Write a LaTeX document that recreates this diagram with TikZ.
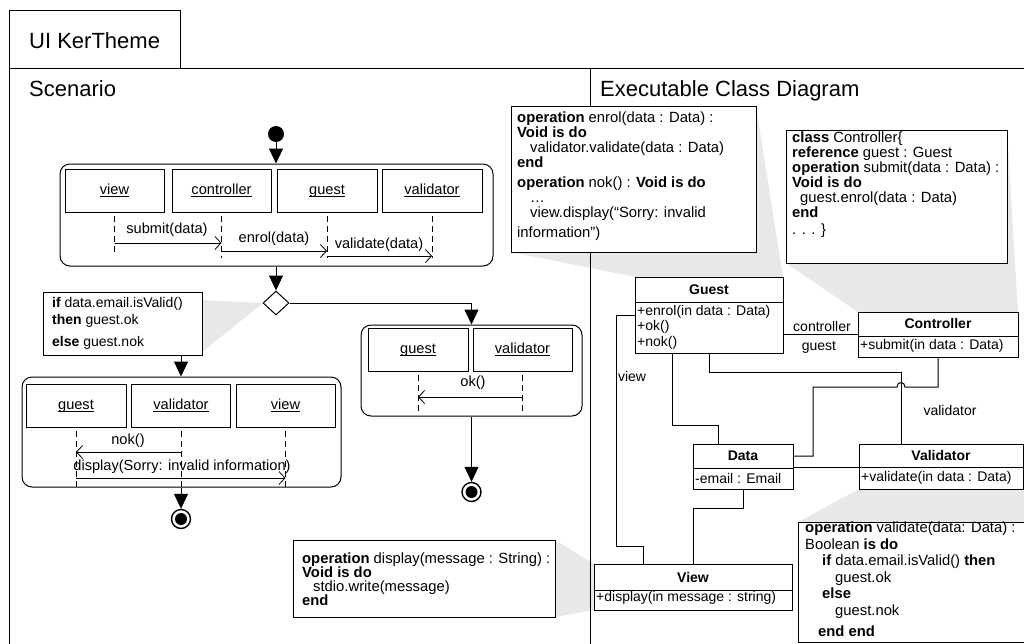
\documentclass[tikz,border=0pt]{standalone}
\usepackage{fontspec}
\setmainfont{Liberation Sans}
\usetikzlibrary{arrows.meta,shapes.geometric}
\newcommand\smallfs{\fontsize{14}{15}\selectfont}
\newcommand\seqfs{\fontsize{14.6}{15}\selectfont}
\newcommand\notefs{\fontsize{14.8}{15}\selectfont}
\newcommand\titlefs{\fontsize{22}{26}\selectfont}
\newcommand\ulabel[1]{\underline{\raisebox{0pt}[\height][0pt]{#1}}}
\tikzset{
  ln/.style={line width=1pt},
  lifebox/.style={draw, line width=1pt, minimum width=99pt, minimum height=43pt, inner sep=0pt, font=\seqfs, text height=10pt, text depth=2pt},
  rbox/.style={draw, line width=1pt, rounded corners=10pt, inner sep=0pt},
  flow/.style={line width=1pt, -{Triangle[width=14pt,length=15pt]}},
  msg/.style={line width=0.8pt, -{Straight Barb[length=6pt,width=13pt]}},
  life/.style={line width=0.8pt, dash pattern=on 6pt off 4pt},
  notebox/.style={draw, fill=white, line width=1pt, inner sep=0pt},
  callout/.style={fill=black!9},
  cls/.style={draw, fill=white, line width=1pt, inner sep=0pt},
  txt/.style={inner sep=0pt, font=\smallfs},
  stxt/.style={inner sep=0pt, font=\seqfs},
  mtxt/.style={inner sep=0pt, font=\smallfs, align=left, anchor=north west},
  ntxt/.style={inner sep=0pt, font=\notefs, align=left, anchor=north west},
  title/.style={inner sep=0pt, font=\titlefs, anchor=base west},
}
\begin{document}
\begin{tikzpicture}[x=1pt,y=-1pt]
\useasboundingbox (0,0) rectangle (1024,643);

% ---------- callout shadings ----------
\fill[callout] (202,300) -- (263,303) -- (202,352) -- cycle;
\fill[callout] (511,106) -- (756,106) -- (783,277) -- (635,277) -- (511,252) -- cycle;
\fill[callout] (786,130) -- (1007,130) -- (1018,312) -- (858,312) -- (786,263) -- cycle;
\fill[callout] (859,489) -- (1040,489) -- (1040,642) -- (798,642) -- (798,522) -- cycle;
\fill[callout] (555,540) -- (594,564) -- (594,610) -- (555,617) -- cycle;

% ---------- frame ----------
\draw[ln] (9,68) rectangle (180,10);
\draw[ln] (9,660) -- (9,68) -- (1040,68);
\draw[ln] (590,68) -- (590,660);
\node[title] (tUI) at (29,48) {UI KerTheme};
\node[title] (tScen) at (29,96) {Scenario};
\node[title] (tExec) at (600,96) {Executable Class Diagram};

% ---------- scenario: top fragment ----------
\node[circle, fill=black, minimum size=16pt, inner sep=0pt] (init) at (276,134) {};
\node[rbox, minimum width=433pt, minimum height=102pt] (rb1) at (276.5,215) {};
\node[lifebox] (s1v) at (114.5,190.5) {\ulabel{view}};
\node[lifebox] (s1c) at (221.5,190.5) {\ulabel{controller}};
\node[lifebox, minimum width=100pt] (s1g) at (327,190.5) {\ulabel{guest}};
\node[lifebox, minimum width=100pt] (s1val) at (432,190.5) {\ulabel{validator}};
\draw[life] (s1v.south |- 0,216) -- (s1v.south |- 0,256);
\draw[life] (s1c.south |- 0,216) -- (s1c.south |- 0,258);
\draw[life] (s1g.south |- 0,216) -- (s1g.south |- 0,258);
\draw[life] (s1val.south |- 0,216) -- (s1val.south |- 0,258);
\draw[msg] (s1v.south |- 0,243) -- (s1c.south |- 0,243);
\draw[msg] (s1c.south |- 0,251) -- (s1g.south |- 0,251);
\draw[msg] (s1g.south |- 0,256) -- (s1val.south |- 0,256);
\node[stxt] (m1) at (167,230) {submit(data)};
\node[stxt] (m2) at (274,239) {enrol(data)};
\node[stxt] (m3) at (379,245) {validate(data)};
\draw[flow] (init.south) -- (init.south |- rb1.north);

% decision
\node[diamond, draw, fill=white, line width=1pt, minimum width=26pt, minimum height=24pt, inner sep=0pt] (dec) at (276,303) {};
\draw[flow] (rb1.south -| dec.north) -- (dec.north);

% guard note
\node[notebox, minimum width=159pt, minimum height=63pt] (nIf) at (122.5,323.5) {};
\node[mtxt] (tIf) at (52,297) {\textbf{if} data.email.isValid()\\[2pt] \textbf{then} guest.ok\\[7pt] \textbf{else} guest.nok};

% ---------- scenario: lower-left fragment ----------
\node[rbox, minimum width=319pt, minimum height=110pt] (rb2) at (181.5,432) {};
\node[lifebox, minimum width=100pt] (s2g) at (76,405.5) {\ulabel{guest}};
\node[lifebox] (s2val) at (181,405.5) {\ulabel{validator}};
\node[lifebox] (s2v) at (285.5,405.5) {\ulabel{view}};
\draw[life] (s2g.south |- 0,431) -- (s2g.south |- rb2.south);
\draw[life] (s2val.south |- 0,431) -- (s2val.south |- rb2.south);
\draw[life] (s2v.south |- 0,431) -- (s2v.south |- rb2.south);
\draw[msg] (s2val.south |- 0,452) -- (s2g.south |- 0,452);
\draw[msg] (s2g.south |- 0,478) -- (s2v.south |- 0,478);
\node[stxt] (m4) at (128,441) {nok()};
\node[stxt] (m5) at (182,467) {display(Sorry: invalid information)};
\draw[flow] (nIf.south -| s2val.north) -- (s2val.north |- rb2.north);

\node[circle, draw, line width=1.4pt, fill=white, minimum size=19pt, inner sep=0pt] (fin1) at (181,519) {};
\fill (fin1.center) circle[radius=6pt];
\draw[flow] (s2val.south |- rb2.south) -- (fin1.north);

% ---------- scenario: right fragment ----------
\node[rbox, minimum width=221pt, minimum height=91pt] (rb3) at (471.5,370.5) {};
\node[lifebox, minimum width=100pt] (s3g) at (418,349.5) {\ulabel{guest}};
\node[lifebox] (s3val) at (522.5,349.5) {\ulabel{validator}};
\draw[life] (s3g.south |- 0,375) -- (s3g.south |- 0,414);
\draw[life] (s3val.south |- 0,375) -- (s3val.south |- 0,414);
\draw[msg] (s3val.south |- 0,397) -- (s3g.south |- 0,397);
\node[stxt] (m6) at (473,383) {ok()};
\draw[flow] (dec.east) -| (rb3.north);

\node[circle, draw, line width=1.4pt, fill=white, minimum size=19pt, inner sep=0pt] (fin2) at (471.5,492) {};
\fill (fin2.center) circle[radius=6pt];
\draw[flow] (rb3.south) -- (fin2.north);

% display note
\node[notebox, minimum width=262pt, minimum height=77pt] (nDisp) at (424,578.5) {};
\node[ntxt] (tDisp) at (302,553) {\textbf{operation} display(message : String) :\\[-1pt] \textbf{Void is do}\\[-1pt] \hspace*{11pt}stdio.write(message)\\[-1pt] \textbf{end}};

% ---------- class diagram notes ----------
\node[notebox, minimum width=245pt, minimum height=146pt] (nEnrol) at (633.5,179) {};
\node[ntxt] (tEnrol) at (517,112) {\textbf{operation} enrol(data : Data) :\\ \textbf{Void is do}\\ \hspace*{13pt}validator.validate(data : Data)\\ \textbf{end}\\[5pt] \textbf{operation} nok() : \textbf{Void is do}\\ \hspace*{13pt}…\\ \hspace*{13pt}view.display(“Sorry: invalid\\[5pt] information”)};

\node[notebox, minimum width=221pt, minimum height=133pt] (nCtrl) at (896.5,196.5) {};
\node[ntxt] (tCtrl) at (792,132) {\textbf{class} Controller\{\\ \textbf{reference} guest : Guest\\ \textbf{operation} submit(data : Data) :\\ \textbf{Void is do}\\ \hspace*{8pt}guest.enrol(data : Data)\\ \textbf{end}\\[2pt] . . . \}};

\node[notebox, minimum width=242pt, minimum height=120pt] (nValid) at (919,582) {};
\node[ntxt] (tValid) at (805,522) {\textbf{operation} validate(data: Data) :\\[1.5pt] Boolean \textbf{is do}\\[1.5pt] \hspace*{17pt}\textbf{if} data.email.isValid() \textbf{then}\\[1.5pt] \hspace*{30pt}guest.ok\\[1.5pt] \hspace*{17pt}\textbf{else}\\[1.5pt] \hspace*{30pt}guest.nok\\[6pt] \hspace*{13pt}\textbf{end end}};

% ---------- classes ----------
\node[cls, minimum width=148pt, minimum height=76pt] (cGuest) at (709,315) {};
\draw[ln] (cGuest.west |- 0,302) -- (cGuest.east |- 0,302);
\node[txt] (cGuestN) at (709,289.5) {\textbf{Guest}};
\node[mtxt] (cGuestO) at (637,305) {+enrol(in data : Data)\\[0.5pt] +ok()\\[0.5pt] +nok()};

\node[cls, minimum width=160pt, minimum height=45pt] (cCtrl) at (938,334.5) {};
\draw[ln] (cCtrl.west |- 0,336) -- (cCtrl.east |- 0,336);
\node[txt] (cCtrlN) at (938,323.5) {\textbf{Controller}};
\node[txt, anchor=west] (cCtrlO) at (860,346) {+submit(in data : Data)};

\node[cls, minimum width=100pt, minimum height=45pt] (cData) at (743,466.5) {};
\draw[ln] (cData.west |- 0,468) -- (cData.east |- 0,468);
\node[txt] (cDataN) at (743,456) {\textbf{Data}};
\node[txt, anchor=west] (cDataO) at (695,478) {-email : Email};

\node[cls, minimum width=164pt, minimum height=45pt] (cValid) at (941,466.5) {};
\draw[ln] (cValid.west |- 0,467) -- (cValid.east |- 0,467);
\node[txt] (cValidN) at (941,455.5) {\textbf{Validator}};
\node[txt, anchor=west] (cValidO) at (861,478) {+validate(in data : Data)};

\node[cls, minimum width=198pt, minimum height=46pt] (cView) at (693,587) {};
\draw[ln] (cView.west |- 0,590) -- (cView.east |- 0,590);
\node[txt] (cViewN) at (693,577) {\textbf{View}};
\node[txt, anchor=west] (cViewO) at (596,598) {+display(in message : string)};

% ---------- associations ----------
\draw[ln] (cGuest.east |- 0,334) -- (cCtrl.west |- 0,334);
\node[txt] (aCtrl) at (822,326) {controller};
\node[txt] (aGuest) at (819,347) {guest};
\draw[ln] (cGuest.west |- 0,315) -| (616,546) -| (cView.north -| 643,0);
\node[txt] (aView) at (632,376) {view};
\draw[ln] (cGuest.south -| 672,0) |- (718,425) -- (cData.north -| 718,0);
\draw[ln] (cGuest.south -| 709,0) |- (901,372) -- (cValid.north -| 901,0);
\node[txt] (aValid) at (950,410) {validator};
\draw[ln] (cCtrl.south -| 938,0) -- (938,387) -- (905,387) .. controls (905,381) and (897,381) .. (897,387) -- (813,387) |- (cData.east |- 0,456);
\draw[ln] (cData.east |- 0,467) -- (cValid.west |- 0,467);
\draw[ln] (cData.south -| 743,0) |- (693,508) -- (cView.north -| 693,0);
\end{tikzpicture}
\end{document}
